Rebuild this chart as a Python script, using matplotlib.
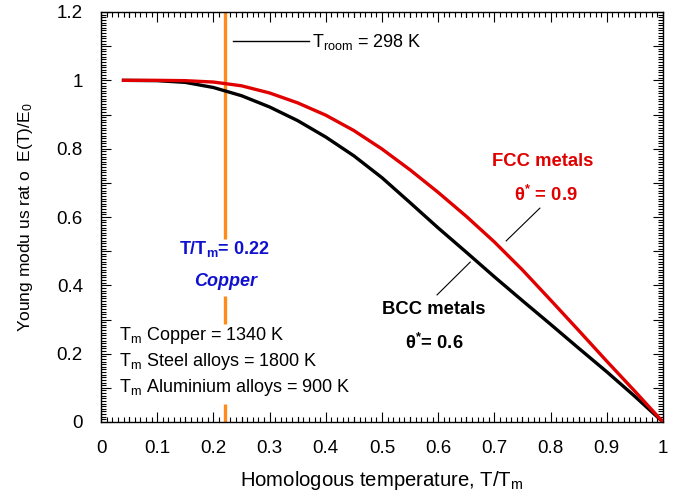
#!/usr/bin/env python3
"""Young's modulus ratio vs homologous temperature for FCC and BCC metals."""

import matplotlib
matplotlib.use("Agg")
import matplotlib.pyplot as plt
from matplotlib.ticker import MultipleLocator, AutoMinorLocator, FuncFormatter


# homologous temperature T/Tm
T_HOM = [0.04, 0.10, 0.15, 0.20, 0.25, 0.30, 0.35, 0.40, 0.45, 0.50,
         0.55, 0.60, 0.65, 0.70, 0.75, 0.80, 0.85, 0.90, 0.95, 1.00]
# E(T)/E0, FCC metals (theta* = 0.9)
E_FCC = [1.000, 1.000, 0.999, 0.995, 0.984, 0.963, 0.934, 0.898, 0.853, 0.799,
         0.738, 0.672, 0.602, 0.527, 0.445, 0.357, 0.268, 0.178, 0.090, 0.000]
# E(T)/E0, BCC metals (theta* = 0.6)
E_BCC = [1.000, 0.999, 0.994, 0.979, 0.955, 0.922, 0.882, 0.834, 0.779, 0.715,
         0.642, 0.568, 0.497, 0.425, 0.355, 0.286, 0.216, 0.147, 0.075, 0.000]

T_COPPER = 0.22
# visible pieces of the room-temperature marker (gaps leave room for labels)
COPPER_SEGMENTS = [(0.536, 1.2), (0.287, 0.369), (0.0, 0.053)]

MELT_LABELS = [
    r"T$_{\mathrm{m}}$ Copper = 1340 K",
    r"T$_{\mathrm{m}}$ Steel alloys = 1800 K",
    r"T$_{\mathrm{m}}$ Aluminium alloys = 900 K",
]

RED = "#e00000"
ORANGE = "#ff8c1a"
BLUE = "#1010d0"

plt.rcParams.update({
    "font.family": ["Liberation Sans", "DejaVu Sans"],
    "mathtext.fontset": "custom",
    "mathtext.rm": "Liberation Sans",
    "mathtext.it": "Liberation Sans:italic",
    "mathtext.bf": "Liberation Sans:bold",
    "font.size": 13,
})

fig = plt.figure(figsize=(6.92, 5.0), dpi=100)
ax = fig.add_axes([0.146, 0.156, 0.812, 0.820])

for y0, y1 in COPPER_SEGMENTS:
    ax.plot([T_COPPER, T_COPPER], [y0, y1], color=ORANGE, lw=2.4, zorder=2,
            solid_capstyle="butt")

ax.plot(T_HOM, E_BCC, color="black", lw=2.4, zorder=3)
ax.plot(T_HOM, E_FCC, color=RED, lw=2.4, zorder=4)

# room temperature key
ax.plot([0.235, 0.370], [1.115, 1.115], color="black", lw=1.0)
ax.text(0.375, 1.112, r"T$_{\mathrm{room}}$ = 298 K", ha="left", va="center")

# curve labels with leader lines
ax.text(0.786, 0.761, "FCC metals", color=RED, fontweight="bold",
        ha="center", va="center", fontsize=13.3)
ax.text(0.792, 0.664, r"θ$^{\mathbf{*}}$ = 0.9", color=RED, fontweight="bold",
        ha="center", va="center", fontsize=13.3)
ax.plot([0.781, 0.721], [0.626, 0.530], color="black", lw=0.8)

ax.text(0.593, 0.328, "BCC metals", color="black", fontweight="bold",
        ha="center", va="center", fontsize=13.3)
ax.text(0.593, 0.231, r"θ$^{\mathbf{*}}$= 0.6", color="black", fontweight="bold",
        ha="center", va="center", fontsize=13.3)
ax.plot([0.657, 0.598], [0.468, 0.372], color="black", lw=0.8)

ax.text(0.219, 0.506, r"T/T$_{\mathbf{m}}$= 0.22", color=BLUE, fontweight="bold",
        ha="center", va="center", fontsize=13)
ax.text(0.222, 0.410, "Copper", color=BLUE, fontweight="bold", style="italic",
        ha="center", va="center", fontsize=13)

for i, label in enumerate(MELT_LABELS):
    ax.text(0.032, 0.252 - i * 0.075, label, ha="left", va="center")

ax.set_xlim(0, 1)
ax.set_ylim(0, 1.2)
ax.set_xlabel(r"Homologous temperature, T/T$_{\mathrm{m}}$", fontsize=14.6)
ax.xaxis.set_label_coords(0.5, -0.115)
ax.set_ylabel(r"Young modu us rat o  E(T)/E$_{\mathrm{0}}$", fontsize=12.5)
ax.yaxis.set_label_coords(-0.118, 0.5)

fmt = FuncFormatter(lambda v, _: f"{v:g}")
ax.xaxis.set_major_locator(MultipleLocator(0.1))
ax.xaxis.set_minor_locator(MultipleLocator(0.01))
ax.xaxis.set_major_formatter(fmt)
ax.yaxis.set_major_locator(MultipleLocator(0.1))
ax.yaxis.set_minor_locator(AutoMinorLocator(13))
ax.yaxis.set_major_formatter(
    FuncFormatter(lambda v, _: f"{v:g}" if round(v * 10) % 2 == 0 else ""))

ax.tick_params(which="both", direction="in", top=True, right=True, width=0.8)
ax.tick_params(which="major", length=7, labelsize=13.5)
ax.tick_params(axis="x", which="major", pad=13)
ax.tick_params(axis="y", which="major", pad=13)
ax.tick_params(which="minor", length=3.5)
for side in ax.spines.values():
    side.set_linewidth(1.0)

# medium ticks at the half-steps of the x axis
for xv in [0.05 + 0.1 * k for k in range(10)]:
    ax.plot([xv, xv], [0, 0.016], color="black", lw=0.8, clip_on=False)
    ax.plot([xv, xv], [1.2 - 0.016, 1.2], color="black", lw=0.8, clip_on=False)

fig.savefig("out.png", dpi=100)
